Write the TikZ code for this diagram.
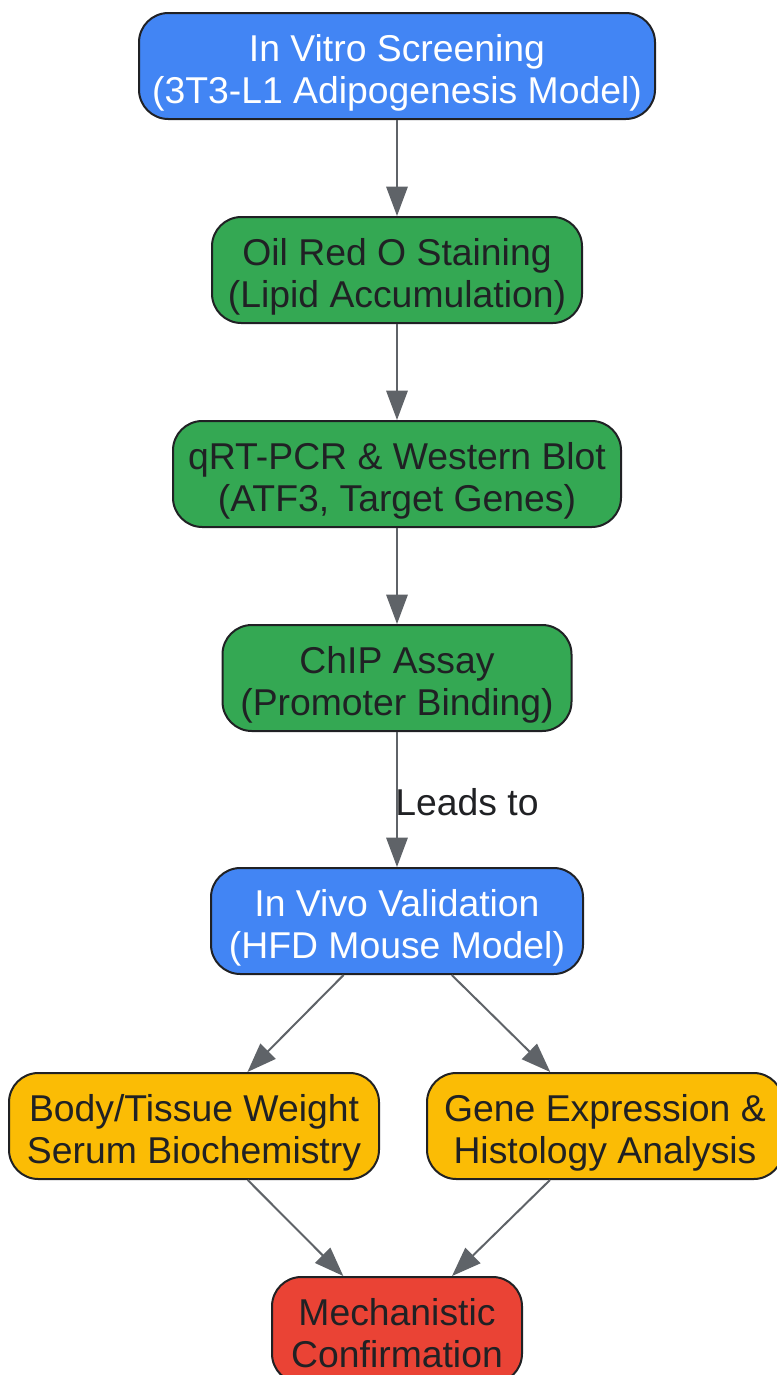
\documentclass[tikz,border=0pt]{standalone}
\usepackage{fontspec}
\setmainfont{Liberation Sans}
\usetikzlibrary{arrows.meta}
\definecolor{stageblue}{HTML}{4285F4}
\definecolor{assaygreen}{HTML}{34A853}
\definecolor{readoutyellow}{HTML}{FBBC05}
\definecolor{resultred}{HTML}{EA4335}
\definecolor{edgegray}{HTML}{5F6368}
\definecolor{inkdark}{HTML}{202124}
\begin{document}
\begin{tikzpicture}[x=0.75pt, y=-0.75pt, >={Triangle[length=22pt,width=16pt]}]
        \tikzset{%
         every step/.style={
            draw=inkdark,
            line width=1.5pt,
            rounded corners=22pt,
            align=center,
            inner sep=0pt,
            minimum height=79.5pt,
            text height=56pt,
            text depth=0pt,
            text=inkdark,
            font=\fontsize{28}{31.5}\selectfont},
        step stage/.style={fill=stageblue, text=white},
        step assay/.style={fill=assaygreen},
        step readout/.style={fill=readoutyellow},
        step result/.style={fill=resultred},
        flow/.style={->, draw=edgegray, line width=1.5pt},
        }

        \useasboundingbox (0,0) rectangle (777,1375);

        \node [every step, step stage, minimum width=387pt] (vitro) at (397,66)
            {In Vitro Screening\\(3T3-L1 Adipogenesis Model)};
        \node [every step, step assay, minimum width=277.5pt] (oilred) at (397,270)
            {Oil Red O Staining\\(Lipid Accumulation)};
        \node [every step, step assay, minimum width=336pt] (qpcr) at (397,474)
            {qRT-PCR \& Western Blot\\(ATF3, Target Genes)};
        \node [every step, step assay, minimum width=261.75pt] (chip) at (397,678)
            {ChIP Assay\\(Promoter Binding)};
        \node [every step, step stage, minimum width=279pt] (vivo) at (397,921)
            {In Vivo Validation\\(HFD Mouse Model)};
        \node [every step, step readout, minimum width=277.5pt] (weight) at (194,1126)
            {Body/Tissue Weight\\Serum Biochemistry};
        \node [every step, step readout, minimum width=267pt] (histo) at (605,1126)
            {Gene Expression \&\\Histology Analysis};
        \node [every step, step result, minimum width=187.5pt] (mech) at (397,1330)
            {Mechanistic\\Confirmation};

        \foreach \a/\b in {vitro/oilred, oilred/qpcr, qpcr/chip}
            \draw [flow] (\a) -- (\b);

        \draw [flow] (chip) -- (vivo)
            node [midway, right, inner sep=0pt, xshift=-2pt, yshift=-2.25pt,
                  text=inkdark, font=\fontsize{28}{31.5}\selectfont] {Leads to};

        \foreach \a/\b in {vivo/weight, vivo/histo, weight/mech, histo/mech}
            \draw [flow] (\a) -- (\b);
    \end{tikzpicture}
\end{document}
